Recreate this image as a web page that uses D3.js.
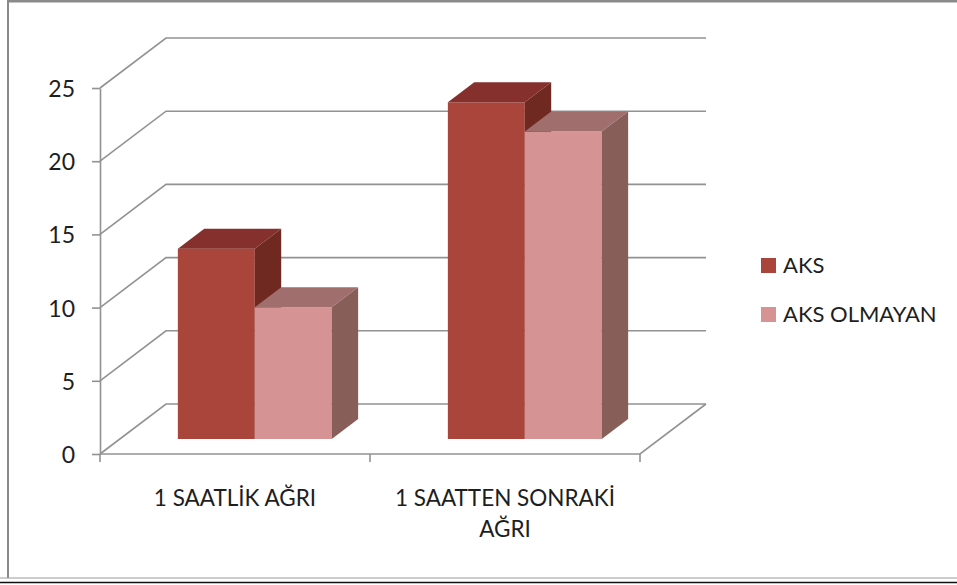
<!DOCTYPE html>
<html>
<head>
<meta charset="utf-8">
<script src="https://cdn.jsdelivr.net/npm/d3@7"></script>
<style>
  body { margin: 0; background: #fff; }
  svg { display: block; }
  text { font-family: Lato, "Open Sans", sans-serif; fill: #1e1e1e; }
</style>
</head>
<body>
<svg id="chart" width="957" height="585"></svg>
<script>
// Data
const categories = ["1 SAATLİK AĞRI", "1 SAATTEN SONRAKİ AĞRI"];
const seriesNames = ["AKS", "AKS OLMAYAN"];
const aksValues = [13, 23];
const aksOlmayanValues = [9, 21];
const yTickValues = [0, 5, 10, 15, 20, 25];

// Face colours for each series: front, top, side
const seriesColors = [
  { front: "#AA453B", top: "#85302C", side: "#6F2921" },
  { front: "#D59493", top: "#A06E6C", side: "#885E59" }
];

const seriesValues = [aksValues, aksOlmayanValues];

const svg = d3.select("#chart");

// Front plane of the plot and the oblique depth offset of the back wall
const left = 100, right = 640, floorY = 454, topY = 88;
const depthX = 66, depthY = 50;
const barNear = 0.3, barFar = 0.7;   // bar depth as a fraction of the floor depth
const gridColor = "#929292";

const y = d3.scaleLinear().domain([0, 25]).range([floorY, topY]);
const x0 = d3.scaleBand().domain(categories).range([left, right]).padding(0);
const groupWidth = x0.bandwidth() * 0.57;
const x1 = d3.scaleBand().domain(seriesNames).range([0, groupWidth]).padding(0);

// Frame
const frame = svg.append("g");
frame.append("line").attr("x1", 8).attr("x2", 8).attr("y1", 0).attr("y2", 578)
  .attr("stroke", "#8a8a8a").attr("stroke-width", 2);
frame.append("line").attr("x1", 7).attr("x2", 957).attr("y1", 1.2).attr("y2", 1.2)
  .attr("stroke", "#8a8a8a").attr("stroke-width", 2.4);
frame.append("line").attr("x1", 0).attr("x2", 957).attr("y1", 578).attr("y2", 578)
  .attr("stroke", "#9a9a9a").attr("stroke-width", 1);
frame.append("line").attr("x1", 0).attr("x2", 957).attr("y1", 582.5).attr("y2", 582.5)
  .attr("stroke", "#111").attr("stroke-width", 1.5);

// Gridlines: side-wall diagonal plus back-wall horizontal for each tick
const grid = svg.append("g").attr("fill", "none").attr("stroke", gridColor).attr("stroke-width", 1.6);
grid.selectAll("path.grid")
  .data(yTickValues)
  .join("path")
  .attr("class", "grid")
  .attr("d", v => {
    const yy = y(v);
    return `M${left},${yy} L${left + depthX},${yy - depthY} L${right + depthX},${yy - depthY}`;
  });

// Floor: front edge and right edge
grid.append("path")
  .attr("d", `M${left},${y(0)} L${right},${y(0)} L${right + depthX},${y(0) - depthY}`);

// Category ticks along the front floor edge
const catEdges = categories.map(c => x0(c)).concat([x0(categories[categories.length - 1]) + x0.bandwidth()]);
grid.selectAll("line.ctick")
  .data(catEdges)
  .join("line")
  .attr("class", "ctick")
  .attr("x1", d => d).attr("x2", d => d)
  .attr("y1", y(0)).attr("y2", y(0) + 8);

// Value axis
const yAxis = d3.axisLeft(y).tickValues(yTickValues).tickSize(8).tickSizeOuter(0).tickPadding(17);
const yAxisG = svg.append("g").attr("transform", `translate(${left},0)`).call(yAxis);
yAxisG.select(".domain").attr("stroke", gridColor).attr("stroke-width", 1.6);
yAxisG.selectAll(".tick line").attr("stroke", gridColor).attr("stroke-width", 1.6);
yAxisG.selectAll(".tick text")
  .attr("font-family", "Lato, 'Open Sans', sans-serif")
  .attr("font-size", 23)
  .attr("fill", "#1e1e1e")
  .attr("dy", "0.37em");

// Bars
const bars = svg.append("g");
categories.forEach((cat, ci) => {
  seriesNames.forEach((name, si) => {
    const v = seriesValues[si][ci];
    const col = seriesColors[si];
    const xa = x0(cat) + (x0.bandwidth() - groupWidth) / 2 + x1(name);
    const xb = xa + x1.bandwidth();
    const yv = y(v), yb = y(0);
    const nx = barNear * depthX, ny = barNear * depthY;
    const fx = barFar * depthX, fy = barFar * depthY;
    const g = bars.append("g");
    g.append("rect")
      .attr("x", xa + nx).attr("y", yv - ny)
      .attr("width", xb - xa).attr("height", yb - yv)
      .attr("fill", col.front);
    g.append("path")
      .attr("d", `M${xa + nx},${yv - ny} L${xb + nx},${yv - ny} L${xb + fx},${yv - fy} L${xa + fx},${yv - fy} Z`)
      .attr("fill", col.top);
    g.append("path")
      .attr("d", `M${xb + nx},${yv - ny} L${xb + fx},${yv - fy} L${xb + fx},${yb - fy} L${xb + nx},${yb - ny} Z`)
      .attr("fill", col.side);
  });
});

// Category labels, wrapped to the band width
const labelG = svg.append("g");
categories.forEach(cat => {
  const cx = x0(cat) + x0.bandwidth() / 2;
  const t = labelG.append("text")
    .attr("x", cx)
    .attr("y", 506)
    .attr("text-anchor", "middle")
    .attr("font-size", 22.5);
  const words = cat.split(" ");
  let line = [];
  let tspan = t.append("tspan").attr("x", cx).attr("dy", 0);
  words.forEach(w => {
    line.push(w);
    tspan.text(line.join(" "));
    if (tspan.node().getComputedTextLength() > 240 && line.length > 1) {
      line.pop();
      tspan.text(line.join(" "));
      line = [w];
      tspan = t.append("tspan").attr("x", cx).attr("dy", 31).text(w);
    }
  });
});

// Legend
const legend = svg.append("g");
seriesNames.forEach((name, i) => {
  const ly = 258 + i * 49;
  legend.append("rect").attr("x", 761).attr("y", ly).attr("width", 15).attr("height", 15)
    .attr("fill", seriesColors[i].front);
  legend.append("text").attr("x", 783).attr("y", ly + 15).attr("font-size", 22).text(name);
});
</script>
</body>
</html>
